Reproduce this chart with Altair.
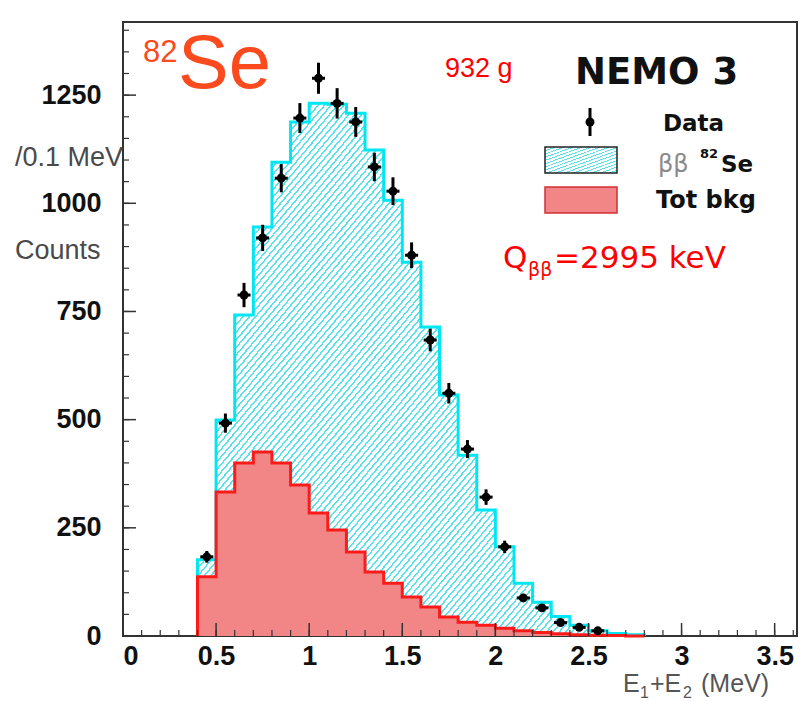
import altair as alt
import pandas as pd
import numpy as np

# ---------------- data ----------------
bin_left = [0.4, 0.5, 0.6, 0.7, 0.8, 0.9, 1.0, 1.1, 1.2, 1.3, 1.4, 1.5,
            1.6, 1.7, 1.8, 1.9, 2.0, 2.1, 2.2, 2.3, 2.4, 2.5, 2.6, 2.7]
last_edge = 2.8
mc_total = [176, 499, 742, 945, 1095, 1188, 1231, 1229, 1208, 1123, 1007, 864,
            714, 557, 418, 291, 206, 122, 78, 45, 25, 12, 6, 3]
bkg_total = [137, 333, 400, 425, 400, 349, 284, 245, 194, 148, 122, 90,
             67, 44, 32, 25, 18, 12, 8, 5, 3, 2, 1, 0]
data_x = [0.45, 0.55, 0.65, 0.75, 0.85, 0.95, 1.05, 1.15, 1.25, 1.35, 1.45,
          1.55, 1.65, 1.75, 1.85, 1.95, 2.05, 2.15, 2.25, 2.35, 2.45, 2.55]
data_y = [183, 492, 788, 920, 1058, 1197, 1289, 1231, 1188, 1084, 1028,
          880, 684, 561, 432, 321, 206, 88, 65, 31, 20, 12]

x_major = [0, 0.5, 1, 1.5, 2, 2.5, 3, 3.5]
x_minor = [round(0.1 * i, 1) for i in range(0, 37)]
y_major = [0, 250, 500, 750, 1000, 1250]
y_minor = [50 * i for i in range(0, 29)]

# ---------------- layout ----------------
W, H = 674, 614
XD = [0, 3.62]
YD = [0, 1419]

CYAN = "#00e6f2"
HATCH = "#55e2ee"
RED = "#ff1a1a"
RED_FILL = "#f28585"
SE_COL = "#fa4a1e"

X_AXIS = alt.Axis(values=x_major, format="~g", ticks=False, domain=False,
                  grid=False, labelPadding=7, title=None,
                  labelFont="Liberation Sans", labelFontWeight="bold",
                  labelFontSize=27, labelColor="#111111")
Y_AXIS = alt.Axis(values=y_major, format="d", ticks=False, domain=False,
                  grid=False, labelPadding=22, title=None,
                  labelFont="Liberation Sans", labelFontWeight="bold",
                  labelFontSize=27, labelColor="#111111")


def xs(field):
    return alt.X(field, type="quantitative",
                 scale=alt.Scale(domain=XD, nice=False, zero=False),
                 axis=X_AXIS)


def ys(field):
    return alt.Y(field, type="quantitative",
                 scale=alt.Scale(domain=YD, nice=False, zero=False),
                 axis=Y_AXIS)


def hatch(n, frac=0.3):
    stops = []
    for k in range(n):
        a = k / n
        b = (k + frac) / n
        c = (k + 1) / n
        stops += [alt.GradientStop(offset=a, color=HATCH),
                  alt.GradientStop(offset=b, color=HATCH),
                  alt.GradientStop(offset=b, color="#ffffff"),
                  alt.GradientStop(offset=c, color="#ffffff")]
    return alt.Gradient(gradient="linear", x1=0, y1=0, x2=1, y2=1, stops=stops)


def step_frames(vals):
    area = pd.DataFrame({"x": bin_left + [last_edge], "y": vals + [vals[-1]]})
    lx = [bin_left[0]] + bin_left + [last_edge, last_edge]
    ly = [0] + vals + [vals[-1], 0]
    line = pd.DataFrame({"x": lx, "y": ly, "o": list(range(len(lx)))})
    return area, line


mc_area, mc_line = step_frames(mc_total)
bk_area, bk_line = step_frames(bkg_total)

cyan_fill = alt.Chart(mc_area).mark_area(
    interpolate="step-after", fill=hatch(140)).encode(x=xs("x"), y=ys("y"))
cyan_line = alt.Chart(mc_line).mark_line(
    interpolate="step-after", color=CYAN, strokeWidth=3).encode(
    x=xs("x"), y=ys("y"), order="o:Q")

red_fill = alt.Chart(bk_area).mark_area(
    interpolate="step-after", color=RED_FILL).encode(x=xs("x"), y=ys("y"))
red_line = alt.Chart(bk_line).mark_line(
    interpolate="step-after", color=RED, strokeWidth=3).encode(
    x=xs("x"), y=ys("y"), order="o:Q")

pts = pd.DataFrame({"x": data_x, "y": data_y})
pts["lo"] = pts["y"] - np.sqrt(pts["y"])
pts["hi"] = pts["y"] + np.sqrt(pts["y"])
pts["xl"] = pts["x"] - 0.035
pts["xr"] = pts["x"] + 0.035

err_v = alt.Chart(pts).mark_rule(color="black", strokeWidth=3).encode(
    x=xs("x"), y=ys("lo"), y2="hi")
err_h = alt.Chart(pts).mark_rule(color="black", strokeWidth=3).encode(
    x=xs("xl"), x2="xr", y=ys("y"))
dots = alt.Chart(pts).mark_point(filled=True, color="black", size=80,
                                 opacity=1, shape="circle").encode(
    x=xs("x"), y=ys("y"))

# inward ticks
TICK = "#333333"
ymaj = alt.Chart(pd.DataFrame({"v": y_major})).mark_rule(
    color=TICK, strokeWidth=1.5).encode(
    y=ys("v"), x=alt.value(0), x2=alt.value(13))
ymin = alt.Chart(pd.DataFrame({"v": y_minor})).mark_rule(
    color=TICK, strokeWidth=1.2).encode(
    y=ys("v"), x=alt.value(0), x2=alt.value(6))
xmaj = alt.Chart(pd.DataFrame({"v": x_major})).mark_rule(
    color=TICK, strokeWidth=1.5).encode(
    x=xs("v"), y=alt.value(H), y2=alt.value(H - 13))
xmin = alt.Chart(pd.DataFrame({"v": x_minor})).mark_rule(
    color=TICK, strokeWidth=1.2).encode(
    x=xs("v"), y=alt.value(H), y2=alt.value(H - 6))

one = pd.DataFrame({"a": [0]})


def txt(s, x, y, size, color="black", font="Liberation Sans", weight="normal",
        align="left", baseline="alphabetic"):
    return alt.Chart(pd.DataFrame({"t": [s]})).mark_text(
        fontSize=size, color=color, font=font, fontWeight=weight,
        align=align, baseline=baseline).encode(
        x=alt.value(x), y=alt.value(y), text="t:N")


texts = [
    txt("82", 20, 40, 31, SE_COL),
    txt("Se", 55, 66, 76, SE_COL),
    txt("932 g", 322, 55, 27, "#ff0000"),
    txt("NEMO 3", 452, 62, 37, "#111111", font="DejaVu Sans", weight="bold"),
    txt("Data", 540, 102, 23, "#111111", font="DejaVu Sans", weight="bold",
        baseline="middle"),
    txt("ββ", 535, 150, 24, "#8a8a8a", font="DejaVu Sans"),
    txt("82", 577, 136, 13, "#111111", font="DejaVu Sans", weight="bold"),
    txt("Se", 598, 150, 23, "#111111", font="DejaVu Sans", weight="bold"),
    txt("Tot bkg", 533, 179, 24, "#111111", font="DejaVu Sans", weight="bold",
        baseline="middle"),
    txt("Q", 380, 246, 31, "#ff0000", font="DejaVu Sans"),
    txt("ββ", 405, 254, 19, "#ff0000", font="DejaVu Sans"),
    txt("=2995 keV", 431, 246, 31, "#ff0000", font="DejaVu Sans"),
    txt("/0.1 MeV", -108, 136, 27, "#4a4a4a", baseline="middle"),
    txt("Counts", -108, 229, 27, "#4a4a4a", baseline="middle"),
    txt("E", 500, 670, 25, "#555555"),
    txt("1", 517, 676, 16, "#555555"),
    txt("+E", 527, 670, 25, "#555555"),
    txt("2", 560, 676, 16, "#555555"),
    txt("(MeV)", 578, 670, 25, "#555555"),
]

leg_marker_v = alt.Chart(one).mark_rule(color="black", strokeWidth=3).encode(
    x=alt.value(467), y=alt.value(86), y2=alt.value(114))
leg_marker = alt.Chart(one).mark_point(filled=True, color="black", size=80,
                                       opacity=1).encode(
    x=alt.value(467), y=alt.value(100))
leg_cyan = alt.Chart(one).mark_rect(fill=hatch(16), stroke="#222222",
                                    strokeWidth=1.5).encode(
    x=alt.value(422), x2=alt.value(494), y=alt.value(125), y2=alt.value(151))
leg_red = alt.Chart(one).mark_rect(fill=RED_FILL, stroke="#d03030",
                                   strokeWidth=1.5).encode(
    x=alt.value(422), x2=alt.value(494), y=alt.value(165), y2=alt.value(191))

chart = alt.layer(
    cyan_fill, cyan_line, red_fill, red_line,
    ymaj, ymin, xmaj, xmin,
    err_v, err_h, dots,
    leg_marker_v, leg_marker, leg_cyan, leg_red,
    *texts
).properties(
    width=W, height=H,
    padding={"left": 123, "top": 22, "right": 8, "bottom": 65},
    autosize=alt.AutoSizeParams(type="none"),
    background="white",
).configure_view(
    stroke="#333333", strokeWidth=2
)

chart.save("out.html", embed_options={"renderer": "svg", "actions": False})
